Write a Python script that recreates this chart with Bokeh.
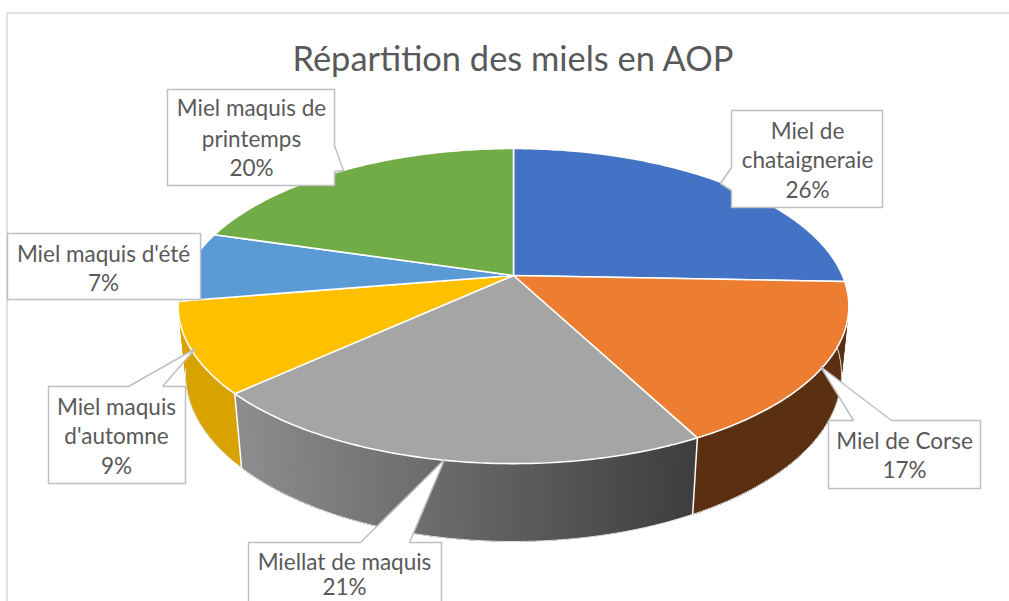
import math
from bokeh.plotting import figure
from bokeh.models import Range1d
from bokeh.core.properties import value
from bokeh.embed import file_html
from bokeh.resources import INLINE

# ---- data
categories = ["Miel de chataigneraie", "Miel de Corse", "Miellat de maquis",
              "Miel maquis d'automne", "Miel maquis d'été", "Miel maquis de printemps"]
shares = [25.6, 16.7, 20.8, 9.2, 7.2, 20.4]
percent_labels = ["26%", "17%", "21%", "9%", "7%", "20%"]
colors = ["#4472C4", "#ED7D31", "#A5A5A5", "#FFC000", "#5B9BD5", "#70AD47"]
title_text = "Répartition des miels en AOP"

W, H = 1009, 601
OX, OY = 0, 0

p = figure(width=W, height=H, output_backend="svg", toolbar_location=None,
           x_range=Range1d(OX, OX + W), y_range=Range1d(OY + H, OY),
           min_border=0, outline_line_color=None, background_fill_color="white",
           border_fill_color="white")
p.axis.visible = False
p.grid.visible = False

# ---- 3D pie projection
X0, Y0, R, A, K, M, B = 513.0, 275.0, 329.0, 151.6, 0.194, 0.0217, 68.6


def project(theta, z=0.0):
    s, c = math.sin(theta), math.cos(theta)
    w = 1 + K * c + M * z
    return X0 + R * s / w, Y0 + (-A * c + B * z) / w


def wall_factor(x):
    t = (x - 243.0) / (690.0 - 243.0)
    return 0.85 + (0.385 - 0.85) * min(max(t, 0.0), 1.0)


def shade(hex_color, f):
    r, g, b = (int(hex_color[i:i + 2], 16) for i in (1, 3, 5))
    return "#%02x%02x%02x" % (int(r * f), int(g * f), int(b * f))


total = sum(shares)
bounds = [0.0]
for v in shares:
    bounds.append(bounds[-1] + v / total * 2 * math.pi)

# side walls: one overlapping strip per step, drawn in order, so no seams show
wx, wy, wc = [], [], []
edge_x, edge_y = [], []
for i, col in enumerate(colors):
    a0, a1 = bounds[i], bounds[i + 1]
    if math.cos((a0 + a1) / 2) >= 0:
        continue
    n = max(2, int((a1 - a0) / math.radians(1.5)))
    for j in range(n):
        t0 = a0 + (a1 - a0) * j / n
        t1 = a0 + (a1 - a0) * (j + 1) / n
        wx.append([project(t0 + (a1 - t0) * q / 12)[0] for q in range(13)] +
                  [project(a1 - (a1 - t0) * q / 12, 1)[0] for q in range(13)])
        wy.append([project(t0 + (a1 - t0) * q / 12)[1] for q in range(13)] +
                  [project(a1 - (a1 - t0) * q / 12, 1)[1] for q in range(13)])
        wc.append(shade(col, wall_factor(project((t0 + t1) / 2)[0])))
    xa, ya = project(a1)
    xb, yb = project(a1, 1)
    edge_x.append([xa, xb])
    edge_y.append([ya, yb])

p.patches(wx, wy, fill_color=wc, line_color=None)
p.multi_line(edge_x[:-1], edge_y[:-1], line_color="white", line_width=1.5)

# bottom rim thin highlight
rim = [math.radians(t) for t in range(92, 262)]
p.line([project(t, 1)[0] for t in rim], [project(t, 1)[1] for t in rim],
       line_color="#e4e4e4", line_width=1)

# top faces
tx, ty = [], []
for i in range(len(shares)):
    a0, a1 = bounds[i], bounds[i + 1]
    n = max(2, int((a1 - a0) / math.radians(0.75)))
    pts = [project(a0 + (a1 - a0) * j / n) for j in range(n + 1)]
    tx.append([X0] + [q[0] for q in pts])
    ty.append([Y0] + [q[1] for q in pts])
p.patches(tx, ty, fill_color=colors, line_color="white", line_width=1.6)

# chart frame
p.line([6.5, 6.5, 1009], [601, 12.5, 12.5], line_color="#d9d9d9", line_width=1.5)

# ---- label boxes with callouts
box_outlines = [
    # chataigneraie
    ([731, 882, 882, 731, 731, 720, 731], [110, 110, 207, 207, 190, 183, 167]),
    # Corse
    ([828, 853, 820, 891, 980, 980, 828], [420, 420, 366, 420, 420, 488, 488]),
    # Miellat
    ([248, 360, 444, 409, 441, 441, 248], [542, 542, 459, 542, 542, 620, 620]),
    # automne
    ([48, 128, 195, 162, 185, 185, 48], [386, 386, 348, 386, 386, 483, 483]),
    # été
    ([7, 200, 200, 7], [233, 233, 299, 299]),
    # printemps
    ([167, 334, 334, 343, 334, 334, 167], [89, 89, 145, 170, 171, 185, 185]),
]
p.patches([b[0] for b in box_outlines], [b[1] for b in box_outlines],
          fill_color="white", line_color="#bfbfbf", line_width=1.5)

label_lines = [
    (807, 130, "Miel de"), (807, 159, "chataigneraie"), (807, 189, percent_labels[0]),
    (904, 440, "Miel de Corse"), (904, 469, percent_labels[1]),
    (344, 561, "Miellat de maquis"), (344, 586, percent_labels[2]),
    (116, 406, "Miel maquis"), (116, 435, "d'automne"), (116, 465, percent_labels[3]),
    (103, 253, "Miel maquis d'été"), (103, 282, percent_labels[4]),
    (251, 107, "Miel maquis de"), (251, 138, "printemps"), (251, 167, percent_labels[5]),
]
p.text([l[0] for l in label_lines], [l[1] for l in label_lines], text=[l[2] for l in label_lines],
       text_font=value("Lato"), text_font_size="22.5px", text_color="#595959",
       text_align="center", text_baseline="middle")
p.text([513], [57], text=[title_text], text_font=value("Lato"), text_font_size="34.4px",
       text_color="#595959", text_align="center", text_baseline="middle")

open("out.html", "w").write(file_html(p, INLINE))
